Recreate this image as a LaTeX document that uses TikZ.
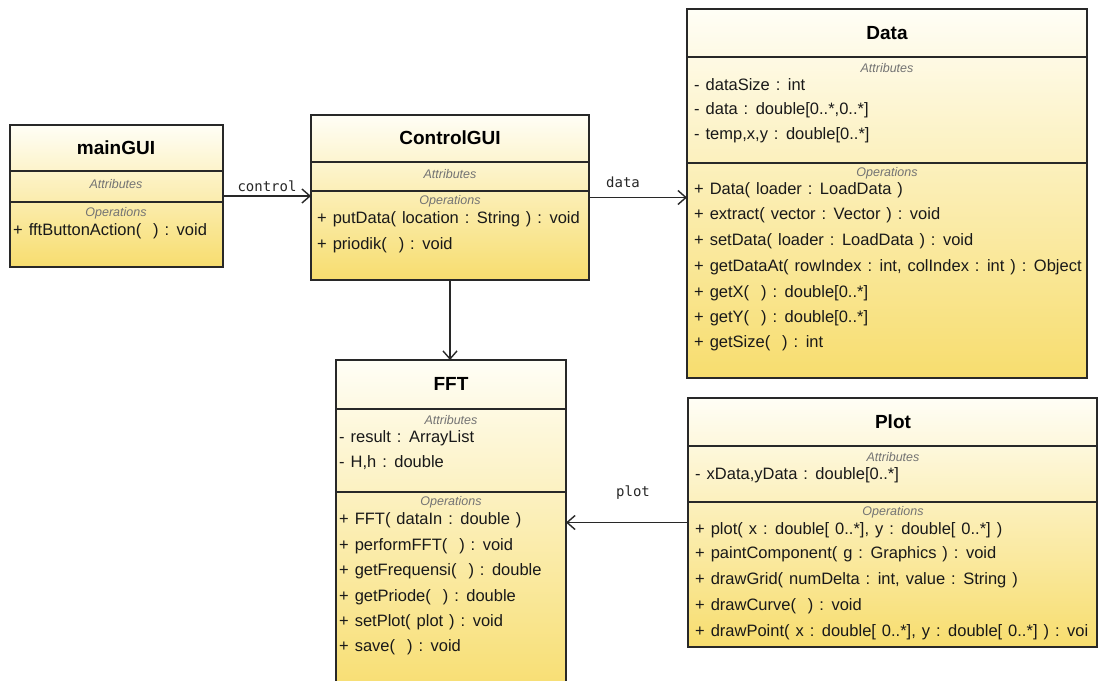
\documentclass[tikz,border=0pt]{standalone}
\usepackage{fontspec}
\setmainfont[WordSpace=1.3]{Liberation Sans}
\newfontfamily\linkfont{DejaVu Sans Mono}
\usepackage{xcolor}
\usetikzlibrary{arrows.meta}

\definecolor{umltop}{RGB}{255,254,246}
\definecolor{umlbottom}{RGB}{247,221,110}
\definecolor{umlline}{RGB}{40,40,40}

\tikzset{
	classbox/.style={draw=umlline, line width=1.3pt, top color=umltop, bottom color=umlbottom, inner sep=0pt, outer sep=0pt, anchor=north west},
	divider/.style={draw=umlline, line width=1.3pt},
	classname/.style={font=\fontsize{19}{22}\selectfont\bfseries, text=black},
	section/.style={font=\fontsize{12.5}{14}\selectfont\itshape, text=black!55},
	member/.style={font=\fontsize{16.5}{18}\selectfont, text=black!90, anchor=west, inner sep=0pt},
	assoc/.style={-{Straight Barb[length=8pt, width=14pt]}, line width=1.4pt, draw=umlline},
	linklabel/.style={font=\linkfont\fontsize{14}{16}\selectfont, text=black!85}
}

\begin{document}
\begin{tikzpicture}[x=1pt, y=-1pt]
				\useasboundingbox (0,0) rectangle (1099,680);
				\node[classbox, minimum width=213pt, minimum height=142pt] (maingui) at (10,125) {};
				\draw[divider] (10,171) -- (223,171);
				\draw[divider] (10,202) -- (223,202);
				\node[classname] (mainguititle) at (116,148) {mainGUI};
				\node[section] (mainguiattr) at (116,184) {Attributes};
				\node[section] (mainguiops) at (116,213) {Operations};
				\node[member] (mainguiop1) at (13,231) {+ fftButtonAction(\ \ ) : void};
				\node[classbox, minimum width=278pt, minimum height=165pt] (controlgui) at (311,115) {};
				\draw[divider] (311,162) -- (589,162);
				\draw[divider] (311,191) -- (589,191);
				\node[classname] (controlguititle) at (450,138) {ControlGUI};
				\node[section] (controlguiattr) at (450,174) {Attributes};
				\node[section] (controlguiops) at (450,201) {Operations};
				\node[member] (controlguiop1) at (317,219) {+ putData( location : String ) : void};
				\node[member] (controlguiop2) at (317,245) {+ priodik(\ \ ) : void};
				\node[classbox, minimum width=400pt, minimum height=369pt] (data) at (687,9) {};
				\draw[divider] (687,57) -- (1087,57);
				\draw[divider] (687,163) -- (1087,163);
				\node[classname] (datatitle) at (887,33) {Data};
				\node[section] (dataattr) at (887,68) {Attributes};
				\node[member] (dataattr1) at (694,85) {- dataSize : int};
				\node[member] (dataattr2) at (694,110) {- data : double[0..*,0..*]};
				\node[member] (dataattr3) at (694,135) {- temp,x,y : double[0..*]};
				\node[section] (dataops) at (887,173) {Operations};
				\node[member] (dataop1) at (694,190) {+ Data( loader : LoadData )};
				\node[member] (dataop2) at (694,215) {+ extract( vector : Vector ) : void};
				\node[member] (dataop3) at (694,241) {+ setData( loader : LoadData ) : void};
				\node[member] (dataop4) at (694,267) {+ getDataAt( rowIndex : int, colIndex : int ) : Object};
				\node[member] (dataop5) at (694,293) {+ getX(\ \ ) : double[0..*]};
				\node[member] (dataop6) at (694,318) {+ getY(\ \ ) : double[0..*]};
				\node[member] (dataop7) at (694,343) {+ getSize(\ \ ) : int};
				\node[classbox, minimum width=230pt, minimum height=340pt] (fft) at (336,360) {};
				\draw[divider] (336,409) -- (566,409);
				\draw[divider] (336,492) -- (566,492);
				\node[classname] (ffttitle) at (451,384) {FFT};
				\node[section] (fftattr) at (451,420) {Attributes};
				\node[member] (fftattr1) at (339,438) {- result : ArrayList};
				\node[member] (fftattr2) at (339,463) {- H,h : double};
				\node[section] (fftops) at (451,502) {Operations};
				\node[member] (fftop1) at (339,520) {+ FFT( dataIn : double )};
				\node[member] (fftop2) at (339,546) {+ performFFT(\ \ ) : void};
				\node[member] (fftop3) at (339,571) {+ getFrequensi(\ \ ) : double};
				\node[member] (fftop4) at (339,597) {+ getPriode(\ \ ) : double};
				\node[member] (fftop5) at (339,622) {+ setPlot( plot ) : void};
				\node[member] (fftop6) at (339,647) {+ save(\ \ ) : void};
				\node[classbox, minimum width=409pt, minimum height=249pt] (plot) at (688,398) {};
				\draw[divider] (688,446) -- (1097,446);
				\draw[divider] (688,502) -- (1097,502);
				\node[classname] (plottitle) at (893,422) {Plot};
				\node[section] (plotattr) at (893,457) {Attributes};
				\node[member] (plotattr1) at (695,475) {- xData,yData : double[0..*]};
				\node[section] (plotops) at (893,512) {Operations};
				\node[member] (plotop1) at (695,530) {+ plot( x : double[ 0..*], y : double[ 0..*] )};
				\node[member] (plotop2) at (695,554) {+ paintComponent( g : Graphics ) : void};
				\node[member] (plotop3) at (695,580) {+ drawGrid( numDelta : int, value : String )};
				\node[member] (plotop4) at (695,606) {+ drawCurve(\ \ ) : void};
				\node[member] (plotop5) at (695,632) {+ drawPoint( x : double[ 0..*], y : double[ 0..*] ) : voi};
				\draw[assoc] (maingui.east) -- (maingui.east -| controlgui.west);
				\node[linklabel] (controllabel) at (267,186) {control};
				\draw[assoc] (controlgui.east) -- (controlgui.east -| data.west);
				\node[linklabel] (datalabel) at (623,182) {data};
				\draw[assoc] (controlgui.south) -- (controlgui.south |- fft.north);
				\draw[assoc] (plot.west) -- (plot.west -| fft.east);
				\node[linklabel] (plotlabel) at (633,493) {plot};
			\end{tikzpicture}
\end{document}
